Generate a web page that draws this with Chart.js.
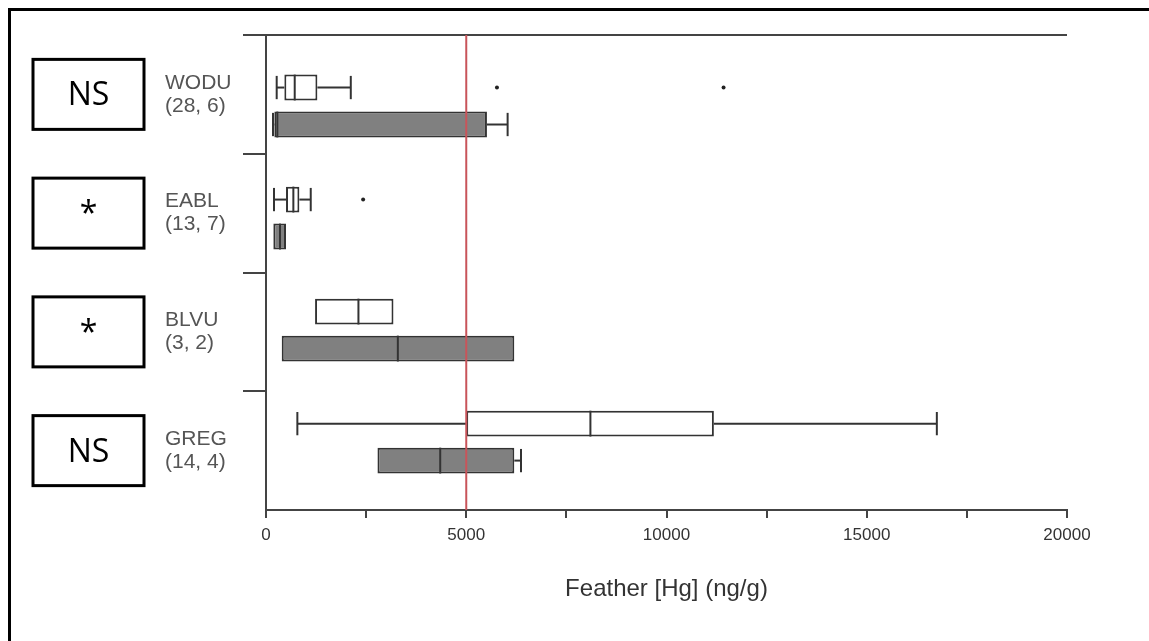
<!DOCTYPE html>
<html>
<head>
<meta charset="utf-8">
<style>
  body { margin: 0; background: white; }
  #wrap { position: relative; width: 1149px; height: 641px; overflow: hidden; background: white; }
  #frame { position: absolute; left: 8px; top: 8px; right: -10px; bottom: -10px; border-left: 3px solid #000; border-top: 3px solid #000; pointer-events: none; }
  canvas { position: absolute; left: 0; top: 0; }
</style>
</head>
<body>
<div id="wrap">
  <canvas id="chart" width="1149" height="641"></canvas>
  <div id="frame"></div>
</div>
<script src="https://cdn.jsdelivr.net/npm/chart.js"></script>
<script>
// species, sample sizes and test result per row
const species = ['WODU', 'EABL', 'BLVU', 'GREG'];
const sampleSizes = ['(28, 6)', '(13, 7)', '(3, 2)', '(14, 4)'];
const tests = ['NS', '*', '*', 'NS'];

// white boxes (upper)
const whiteMin = [267, 200, null, 783];
const whiteQ1 = [458, 500, 1225, 5000];
const whiteMed = [717, 683, 2308, 8100];
const whiteQ3 = [1283, 833, 3183, 11183];
const whiteMax = [2117, 1117, null, 16750];
const whiteOutliers = [[5767, 11425], [2425], [], []];

// grey boxes (lower)
const grayMin = [175, null, null, null];
const grayQ1 = [208, 183, 392, 2783];
const grayMed = [283, 350, 3292, 4350];
const grayQ3 = [5517, 500, 6200, 6200];
const grayMax = [6033, null, null, 6367];
const grayOutliers = [[], [], [], []];

const xTicks = [0, 5000, 10000, 15000, 20000];
const threshold = 5000;

const groups = [
  { min: whiteMin, q1: whiteQ1, med: whiteMed, q3: whiteQ3, max: whiteMax, out: whiteOutliers },
  { min: grayMin, q1: grayQ1, med: grayMed, q3: grayQ3, max: grayMax, out: grayOutliers }
];

function seg(ctx, x1, y1, x2, y2) {
  ctx.beginPath();
  ctx.moveTo(x1, y1);
  ctx.lineTo(x2, y2);
  ctx.stroke();
}

const boxExtras = {
  id: 'boxExtras',
  afterDatasetsDraw(chart) {
    const { ctx, chartArea } = chart;
    const xs = chart.scales.x, ys = chart.scales.y;
    ctx.save();
    groups.forEach((g, di) => {
      chart.getDatasetMeta(di).data.forEach((bar, i) => {
        const cy = bar.y, h = bar.height;
        ctx.strokeStyle = '#333';
        ctx.fillStyle = '#222';
        ctx.lineWidth = 2;
        const pm = xs.getPixelForValue(g.med[i]);
        seg(ctx, pm, cy - h / 2, pm, cy + h / 2);
        const cap = h * 0.45;
        if (g.max[i] != null) {
          const a = xs.getPixelForValue(g.q3[i]), b = xs.getPixelForValue(g.max[i]);
          seg(ctx, a, cy, b, cy);
          seg(ctx, b, cy - cap, b, cy + cap);
        }
        if (g.min[i] != null) {
          const a = xs.getPixelForValue(g.q1[i]), b = xs.getPixelForValue(g.min[i]);
          seg(ctx, a, cy, b, cy);
          seg(ctx, b, cy - cap, b, cy + cap);
        }
        g.out[i].forEach(v => {
          ctx.beginPath();
          ctx.arc(xs.getPixelForValue(v), cy, 2, 0, Math.PI * 2);
          ctx.fill();
        });
      });
    });

    // 5000 ng/g reference line
    const tx = xs.getPixelForValue(threshold);
    ctx.strokeStyle = '#c8545a';
    ctx.lineWidth = 2;
    seg(ctx, tx, chartArea.top, tx, chartArea.bottom);

    // significance boxes on the left
    species.forEach((s, i) => {
      const cy = ys.getPixelForValue(i);
      ctx.strokeStyle = '#000';
      ctx.lineWidth = 3;
      ctx.strokeRect(33, cy - 35, 111, 70);
      ctx.fillStyle = '#000';
      ctx.font = '32px "Open Sans"';
      ctx.textAlign = 'center';
      ctx.textBaseline = 'middle';
      ctx.fillText(tests[i], 88.5, cy + 2);
    });
    ctx.restore();
  }
};

const boxStyle = {
  borderColor: '#333',
  borderWidth: 2,
  borderSkipped: false,
  categoryPercentage: 0.66,
  barPercentage: 0.7,
  yAxisID: 'yb'
};

new Chart(document.getElementById('chart'), {
  type: 'bar',
  data: {
    labels: species.map((s, i) => [s, sampleSizes[i]]),
    datasets: [
      Object.assign({
        data: whiteQ1.map((v, i) => ({ x: [v, whiteQ3[i]], y: i })),
        backgroundColor: '#ffffff'
      }, boxStyle),
      Object.assign({
        data: grayQ1.map((v, i) => ({ x: [v, grayQ3[i]], y: i })),
        backgroundColor: '#808080'
      }, boxStyle)
    ]
  },
  options: {
    indexAxis: 'y',
    responsive: false,
    animation: false,
    layout: { padding: { left: 165, top: 35, right: 82, bottom: 0 } },
    plugins: { legend: { display: false }, tooltip: { enabled: false } },
    scales: {
      x: {
        type: 'linear',
        min: 0,
        max: 20000,
        afterFit: s => { s.height = 131; },
        ticks: {
          stepSize: 2500,
          autoSkip: false,
          maxRotation: 0,
          padding: 7,
          color: '#333',
          font: { family: 'Liberation Sans', size: 17 },
          callback: v => xTicks.includes(v) ? String(v) : ''
        },
        grid: { drawOnChartArea: false, tickLength: 8, color: '#444', lineWidth: 2 },
        border: { color: '#444', width: 2 },
        title: {
          display: true,
          text: 'Feather [Hg] (ng/g)',
          color: '#333',
          font: { family: 'Liberation Sans', size: 24 },
          padding: { top: 0, bottom: 37 }
        }
      },
      y: {
        type: 'category',
        position: 'left',
        offset: true,
        afterFit: s => { s.width = 101; },
        ticks: {
          crossAlign: 'far',
          color: '#555',
          font: { family: 'Liberation Sans', size: 21, lineHeight: 1.1 }
        },
        grid: {
          offset: true,
          drawOnChartArea: true,
          color: c => c.index === 0 ? '#444' : 'rgba(0,0,0,0)',
          tickColor: c => c.type === 'tick' ? '#444' : 'rgba(0,0,0,0)',
          lineWidth: 2,
          tickLength: 23
        },
        border: { color: '#444', width: 2 }
      },
      yb: {
        type: 'linear',
        display: false,
        offset: false,
        bounds: 'data',
        grace: 0,
        reverse: true,
        min: -0.634,
        max: 3.606,
        afterBuildTicks: s => { s.ticks = species.map((n, i) => ({ value: i })); }
      }
    }
  },
  plugins: [boxExtras]
});
</script>
</body>
</html>
